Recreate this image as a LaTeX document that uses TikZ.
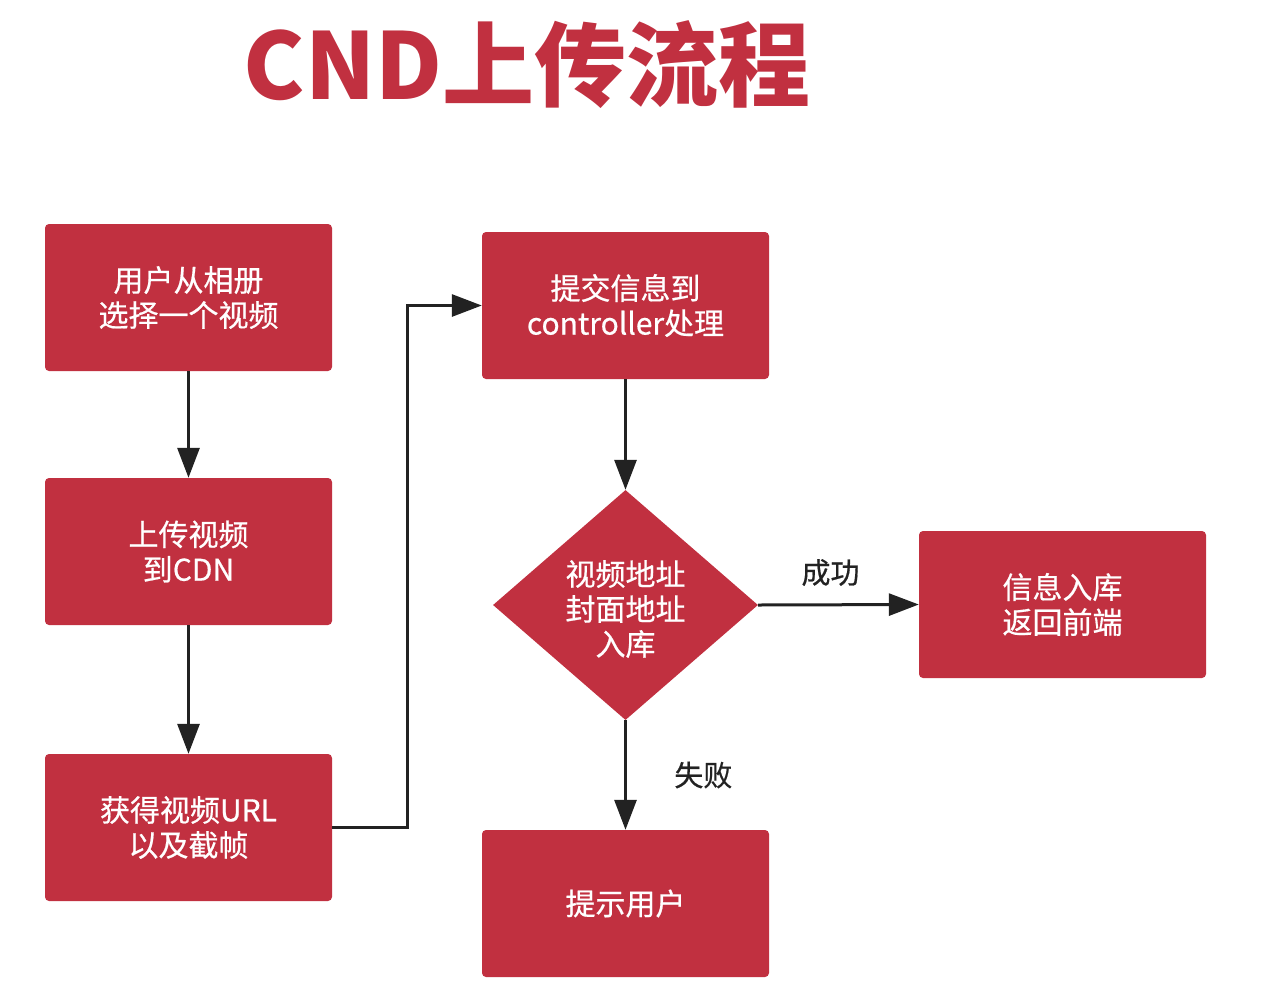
\documentclass[tikz,border=0pt]{standalone}
\usepackage{fontspec}
\setmainfont{Noto Sans CJK SC}
\newfontfamily\boxfont[FakeBold=0.6]{Noto Sans CJK SC}
\usetikzlibrary{calc,shapes.geometric,arrows.meta}
\definecolor{cndred}{RGB}{193,48,64}
\definecolor{inkgray}{RGB}{34,34,34}

\begin{document}
\begin{tikzpicture}[
    x=1pt, y=-1pt,
    stepbox/.style={rectangle, rounded corners=4pt, fill=cndred, text=white,
      minimum width=287pt, minimum height=147pt, align=center,
      font=\boxfont\fontsize{30}{35}\selectfont},
    checkbox/.style={diamond, fill=cndred, text=white, inner sep=0pt,
      aspect=1.15, minimum width=265pt, minimum height=230pt, align=center,
      font=\boxfont\fontsize{30}{35}\selectfont},
    arr/.style={draw=inkgray, line width=3pt,
      -{Triangle[length=30pt,width=22pt]}},
    tag/.style={text=inkgray, font=\boxfont\fontsize{29}{35}\selectfont}
  ]
  \useasboundingbox (0,0) rectangle (1264,994);

  \node[text=cndred, font=\fontsize{92}{100}\selectfont\bfseries] (title) at (527,65) {CND上传流程};

  \node[stepbox] (pick) at (188.5,297.5) {用户从相册\\选择一个视频};
  \node[stepbox] (upload) at (188.5,551.5) {上传视频\\到CDN};
  \node[stepbox] (got) at (188.5,827.5) {获得视频URL\\以及截帧};
  \node[stepbox] (submit) at (625.5,305.5) {提交信息到\\controller处理};
  \node[checkbox] (save) at (625.5,605) {\strut\\[-28pt]视频地址\\封面地址\\入库};
  \node[stepbox] (done) at (1062.5,604.5) {信息入库\\返回前端};
  \node[stepbox] (warn) at (625.5,903.5) {提示用户};

  \draw[arr] (pick) -- (upload);
  \draw[arr] (upload) -- (got);
  \draw[arr] (got.east) -| ($(got.east)!.5!(submit.west)$) |- (submit.west);
  \draw[arr] (submit) -- (save);
  \draw[arr] (save.east) -- node[tag, above=14pt, pos=.45] {成功} (done.west);
  \draw[arr] (save.south) -- node[tag, right=44pt] {失败} (warn.north);
\end{tikzpicture}
\end{document}
